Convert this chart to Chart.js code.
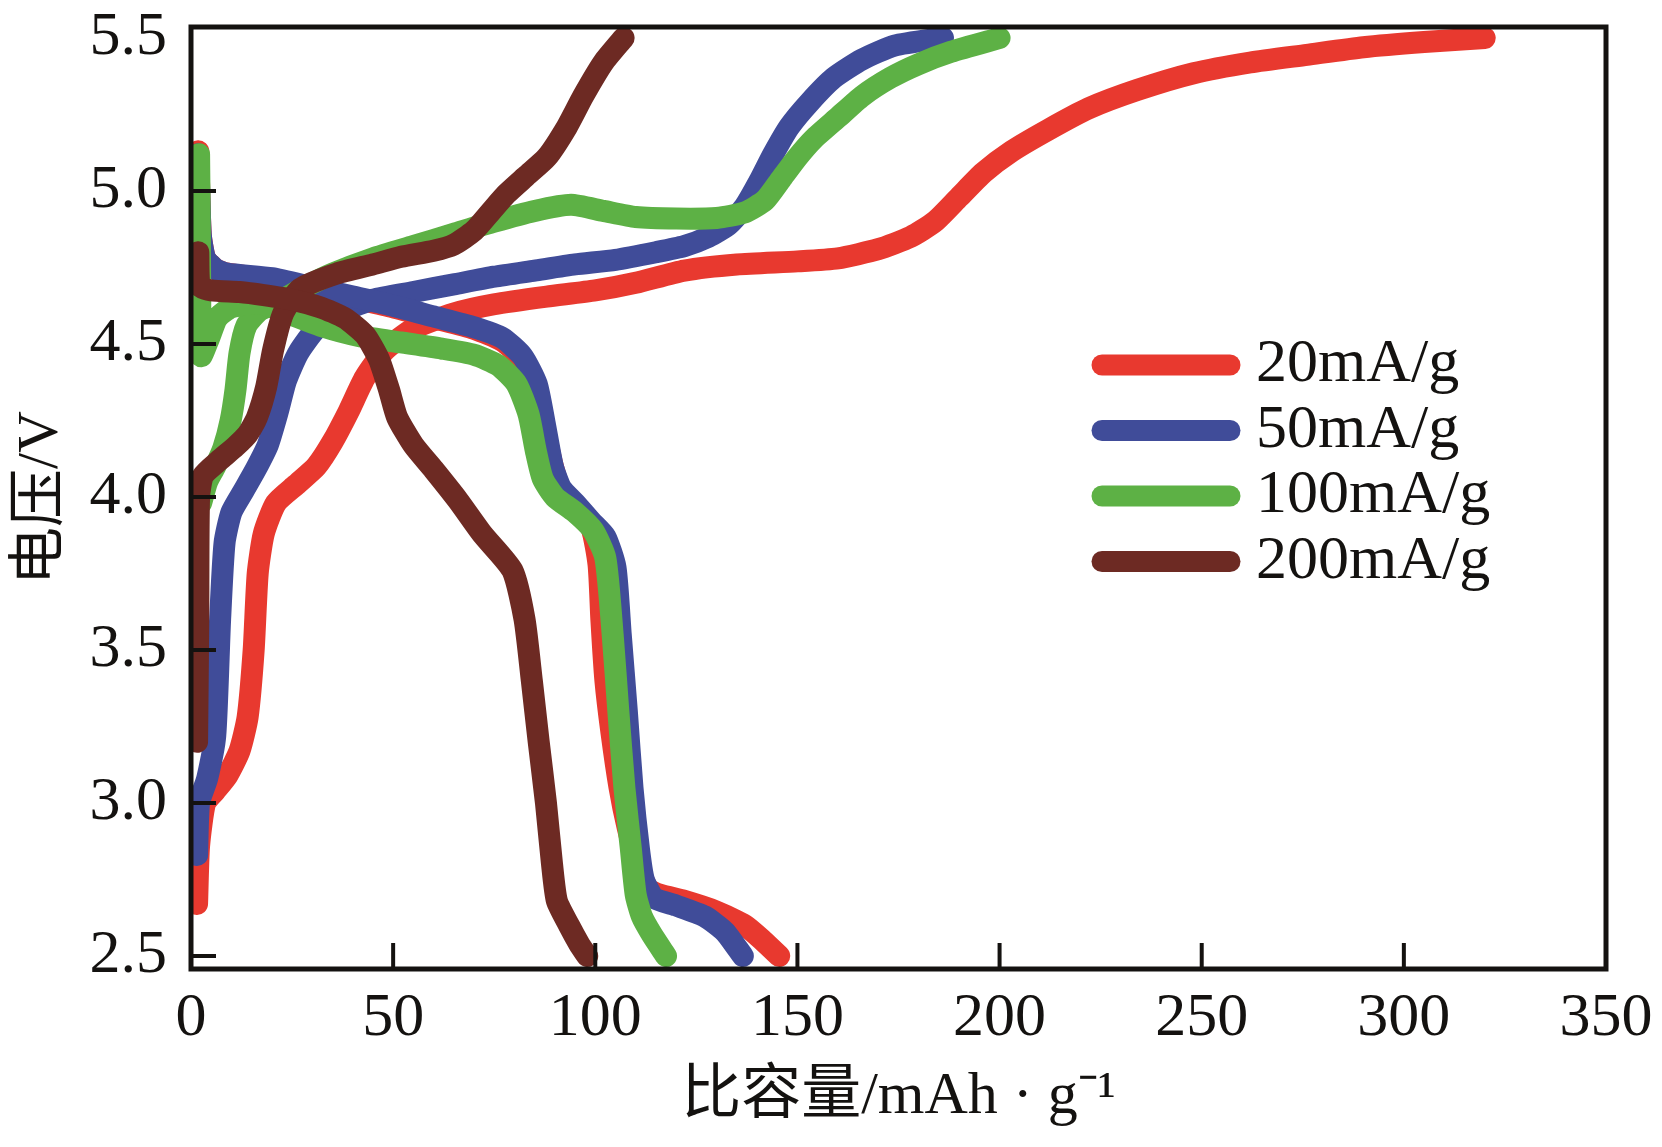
<!DOCTYPE html>
<html><head><meta charset="utf-8">
<script src="https://cdn.jsdelivr.net/npm/chart.js@4/dist/chart.umd.min.js"></script>
<style>html,body{margin:0;padding:0;background:#fff;}#wrap{width:1662px;height:1147px;}</style>
</head><body><div id="wrap"><canvas id="c" width="1662" height="1147"></canvas></div>
<script>
// ---------- data ----------
const seriesLabels = ['20mA/g', '50mA/g', '100mA/g', '200mA/g'];
const xTicks = [0, 50, 100, 150, 200, 250, 300, 350];
const yTicks = [2.5, 3.0, 3.5, 4.0, 4.5, 5.0, 5.5];
const xTitle = '比容量/mAh · g⁻¹';
const yTitle = '电压/V';

// [specific capacity, voltage]
const discharge20 = [[1.8,5.13],[2.4,4.86],[3.5,4.78],[6,4.745],[9,4.73],[20,4.71],[30,4.68],[40,4.65],[50,4.62],[60,4.585],[70,4.55],[77,4.51],[82,4.45],[85.5,4.36],[87.5,4.22],[89.5,4.1],[91.5,4.02],[95,3.96],[99,3.9],[100.8,3.78],[101.5,3.6],[102.5,3.4],[104,3.23],[106,3.05],[108,2.92],[110.5,2.8],[113,2.72],[116,2.7],[122,2.68],[130,2.645],[137,2.6],[141.5,2.55],[145.5,2.5]];
const charge20 = [[1.5,2.67],[2,2.86],[3.5,3.0],[6,3.04],[9,3.09],[12,3.17],[14,3.28],[15.5,3.5],[16.5,3.75],[18,3.88],[21,3.98],[26,4.04],[31,4.1],[35,4.18],[39,4.28],[43,4.39],[48,4.48],[55,4.55],[65,4.6],[75,4.63],[88,4.655],[100,4.675],[110,4.7],[122,4.74],[135,4.76],[150,4.77],[160,4.78],[170,4.81],[178,4.85],[184,4.9],[190,4.98],[196,5.06],[203,5.13],[212,5.2],[222,5.27],[234,5.33],[248,5.385],[262,5.42],[276,5.445],[290,5.47],[305,5.487],[320,5.5]];

const discharge50 = [[1.8,5.12],[2.4,4.86],[3.5,4.78],[6,4.745],[9,4.73],[20,4.715],[30,4.685],[40,4.655],[50,4.625],[60,4.59],[70,4.555],[77,4.52],[82,4.46],[85.5,4.37],[87.5,4.24],[89.5,4.1],[91.5,4.03],[95,3.98],[99,3.92],[102.5,3.87],[105,3.77],[106.3,3.55],[107.8,3.3],[109.2,3.05],[110.8,2.85],[112,2.75],[114.5,2.69],[120,2.665],[127,2.63],[132,2.58],[136.5,2.5]];
const charge50 = [[1.5,2.83],[2,3.0],[4,3.08],[6,3.22],[7.2,3.6],[8.3,3.85],[10,3.95],[13,4.02],[16,4.09],[19,4.17],[21.5,4.28],[23.5,4.38],[26.5,4.47],[31,4.55],[38,4.61],[45,4.645],[55,4.67],[65,4.695],[75,4.72],[85,4.74],[95,4.76],[105,4.775],[115,4.8],[122,4.82],[128,4.85],[133,4.89],[137,4.95],[140.5,5.03],[144,5.12],[148,5.21],[153,5.29],[159,5.37],[166,5.43],[174,5.475],[186,5.5]];

const discharge100 = [[2,5.12],[2.2,4.85],[2.3,4.6],[2.5,4.46],[4.5,4.52],[6.5,4.585],[10,4.62],[17,4.632],[24,4.6],[32,4.56],[42,4.525],[52,4.505],[62,4.485],[70,4.465],[76,4.43],[80.5,4.37],[83.5,4.27],[85.3,4.15],[87,4.06],[90,4.0],[95,3.95],[99.5,3.89],[102.5,3.8],[104.3,3.55],[105.7,3.3],[107.2,3.05],[108.8,2.85],[110,2.7],[111.5,2.63],[114,2.57],[117.5,2.5]];
const charge100 = [[2.5,3.98],[4,4.05],[6,4.1],[8,4.16],[9.8,4.25],[11,4.35],[12,4.47],[13.7,4.56],[17,4.61],[22,4.64],[28,4.685],[35,4.73],[45,4.78],[55,4.82],[65,4.86],[75,4.9],[85,4.935],[94,4.955],[102,4.935],[110,4.915],[120,4.91],[130,4.912],[137,4.93],[142,4.97],[146,5.04],[150,5.11],[154,5.17],[160,5.24],[166,5.31],[173,5.37],[180,5.415],[188,5.455],[200,5.5]];

const discharge200 = [[1.8,4.8],[2.2,4.69],[5,4.675],[12,4.67],[18,4.66],[25,4.645],[32,4.62],[38,4.585],[43,4.53],[46.5,4.45],[49,4.35],[51,4.26],[55,4.17],[60,4.09],[66,3.99],[72,3.88],[79.5,3.76],[82.5,3.6],[84.3,3.4],[86,3.2],[87.8,3.0],[89.3,2.8],[90.5,2.68],[93.5,2.6],[96,2.54],[98,2.5]];
const charge200 = [[1.5,3.2],[1.8,3.6],[2,4.0],[3,4.07],[7,4.12],[11,4.165],[14,4.205],[16.3,4.26],[18.6,4.36],[20.3,4.48],[22.8,4.6],[27,4.68],[36,4.73],[45,4.76],[52,4.785],[60,4.805],[65,4.825],[70,4.87],[74,4.93],[78,4.99],[83,5.05],[88,5.11],[93,5.21],[97,5.31],[102,5.42],[107,5.5]];

const colors = ['#E8392F', '#404C99', '#5DB145', '#6D2A23'];
// ---------- chart ----------
const FONT = "'Liberation Serif','Noto Sans CJK SC',serif";
const toXY = a => a.map(p => ({x: p[0], y: p[1]}));
const pairs = [[discharge20, charge20], [discharge50, charge50], [discharge100, charge100], [discharge200, charge200]];
const datasets = [];
pairs.forEach((pr, i) => {
  pr.forEach((arr, k) => {
    datasets.push({
      label: seriesLabels[i] + (k ? ' charge' : ' discharge'),
      data: toXY(arr),
      borderColor: colors[i],
      backgroundColor: colors[i],
      borderWidth: 22,
      pointRadius: 0,
      tension: 0.2,
      borderCapStyle: 'round',
      borderJoinStyle: 'round',
      fill: false,
      clip: 0,
      order: 4 - i
    });
  });
});

const framePlugin = {
  id: 'frame',
  afterDatasetsDraw(chart) {
    const {ctx, chartArea: a, scales} = chart;
    ctx.save();
    ctx.strokeStyle = '#141210';
    ctx.lineCap = 'butt';
    ctx.lineWidth = 4;
    yTicks.forEach(v => {
      const p = scales.y.getPixelForValue(v);
      if (p - a.top < 15 || a.bottom - p < 5) return;
      ctx.beginPath(); ctx.moveTo(a.left, p); ctx.lineTo(a.left + 25, p); ctx.stroke();
    });
    xTicks.forEach(v => {
      const p = scales.x.getPixelForValue(v);
      if (p - a.left < 5 || a.right - p < 5) return;
      ctx.beginPath(); ctx.moveTo(p, a.bottom); ctx.lineTo(p, a.bottom - 26); ctx.stroke();
    });
    ctx.lineWidth = 5;
    ctx.strokeRect(a.left, a.top, a.right - a.left, a.bottom - a.top);
    ctx.restore();
  }
};

const legendPlugin = {
  id: 'inlineLegend',
  afterDraw(chart) {
    const ctx = chart.ctx;
    ctx.save();
    seriesLabels.forEach((lab, i) => {
      const y = 365 + i * 65.5;
      ctx.strokeStyle = colors[i];
      ctx.lineWidth = 21;
      ctx.lineCap = 'round';
      ctx.beginPath(); ctx.moveTo(1102, y); ctx.lineTo(1230, y); ctx.stroke();
      ctx.fillStyle = '#141210';
      ctx.font = '62px ' + FONT;
      ctx.textBaseline = 'alphabetic';
      ctx.textAlign = 'left';
      ctx.fillText(lab, 1256, y + 16);
    });
    ctx.restore();
  }
};

new Chart(document.getElementById('c'), {
  type: 'line',
  data: {datasets},
  options: {
    responsive: false,
    animation: false,
    devicePixelRatio: 1,
    parsing: true,
    layout: {padding: {left: 0, right: 56, top: 27, bottom: 0}},
    plugins: {legend: {display: false}, tooltip: {enabled: false}},
    scales: {
      x: {
        type: 'linear', min: 0, max: 350,
        afterBuildTicks: s => { s.ticks = xTicks.map(v => ({value: v})); },
        afterFit: s => { s.height = 1147 - 969; s.paddingLeft = 0; s.paddingRight = 0; },
        grid: {display: false, drawTicks: false},
        border: {display: false},
        ticks: {font: {family: FONT, size: 62}, color: '#141210', padding: 13, autoSkip: false, maxRotation: 0,
                callback: v => String(v)},
        title: {display: true, text: xTitle, font: {family: FONT, size: 60, lineHeight: 1.2}, color: '#141210', padding: {top: 0, bottom: 14}}
      },
      y: {
        type: 'linear', min: 2.4575, max: 5.536,
        afterBuildTicks: s => { s.ticks = yTicks.map(v => ({value: v})); },
        afterFit: s => { s.width = 191; s.paddingTop = 0; s.paddingBottom = 0; },
        grid: {display: false, drawTicks: false},
        border: {display: false},
        ticks: {font: {family: FONT, size: 62}, color: '#141210', padding: 24, autoSkip: false,
                callback: v => Number(v).toFixed(1)},
        title: {display: true, text: yTitle, font: {family: FONT, size: 58, lineHeight: 1.2}, color: '#141210', padding: {top: 7, bottom: 0}}
      }
    }
  },
  plugins: [framePlugin, legendPlugin]
});
</script>
</body></html>
